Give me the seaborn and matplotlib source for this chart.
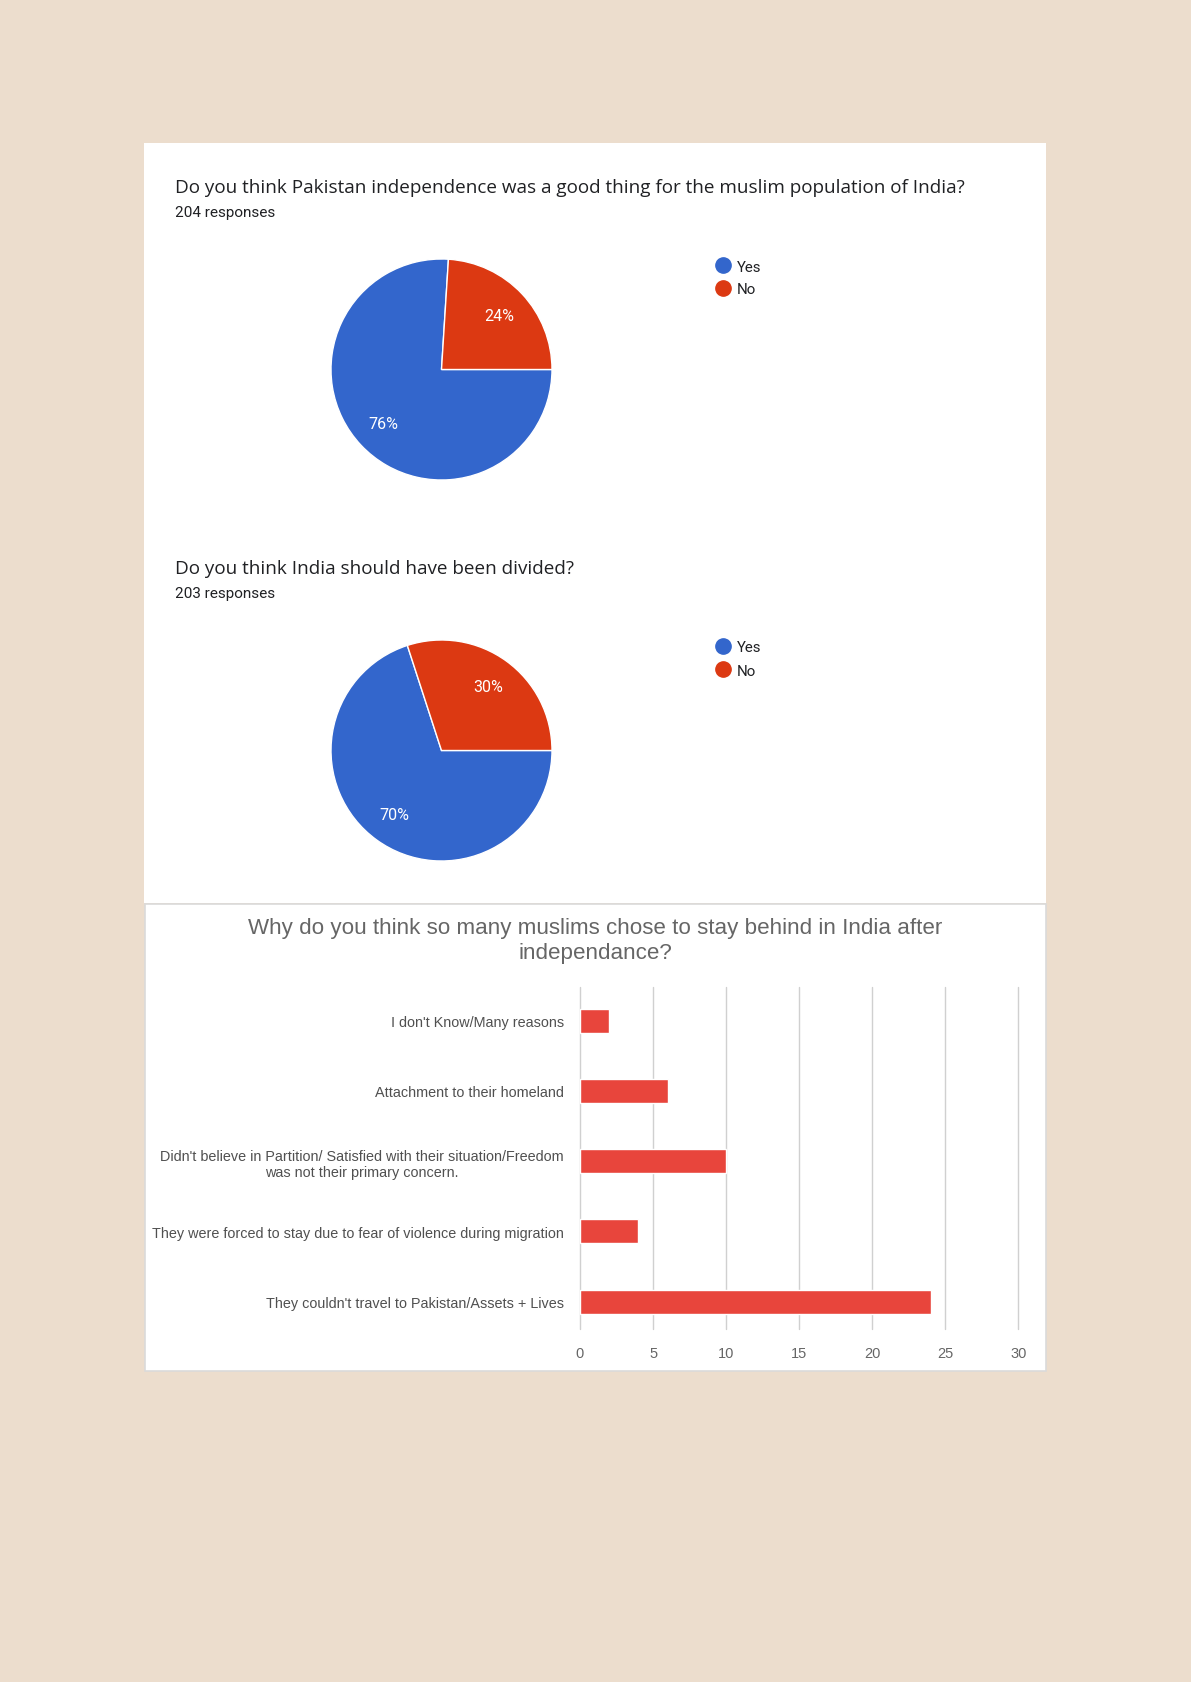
import matplotlib
matplotlib.use("Agg")
import matplotlib.pyplot as plt
from matplotlib.patches import Rectangle
from matplotlib.lines import Line2D
import seaborn as sns
import pandas as pd

# ---------------- data ----------------
q1_title = "Do you think Pakistan independence was a good thing for the muslim population of India?"
q1_responses = "204 responses"
q1_labels = ["Yes", "No"]
q1_values = [76, 24]

q2_title = "Do you think India should have been divided?"
q2_responses = "203 responses"
q2_labels = ["Yes", "No"]
q2_values = [70, 30]

q3_title = "Why do you think so many muslims chose to stay behind in India after\nindependance?"
q3_reasons = [
    "I don't Know/Many reasons",
    "Attachment to their homeland",
    "Didn't believe in Partition/ Satisfied with their situation/Freedom\nwas not their primary concern.",
    "They were forced to stay due to fear of violence during migration",
    "They couldn't travel to Pakistan/Assets + Lives",
]
q3_counts = [2, 6, 10, 4, 24]
q3_ticks = [0, 5, 10, 15, 20, 25, 30]

pie_colors = ["#3366CC", "#DC3912"]
bar_color = "#E8453C"
page_bg = "#ECDDCD"

sns.set_theme(style="white")
plt.rcParams["font.family"] = ["Roboto", "DejaVu Sans"]

W, H = 1191, 1683
fig = plt.figure(figsize=(W / 100, H / 100), dpi=100, facecolor=page_bg)

def fx(px):
    return px / W

def fy(py):
    return 1 - py / H

# panels
fig.patches.append(Rectangle((fx(144), fy(904)), fx(1046 - 144), (904 - 144) / H,
                             transform=fig.transFigure, facecolor="white",
                             edgecolor="none", zorder=-5))
fig.patches.append(Rectangle((fx(145), fy(1372)), fx(1046 - 145), (1372 - 905) / H,
                             transform=fig.transFigure, facecolor="white",
                             edgecolor="#DADADA", linewidth=1.2, zorder=-4))

def pie_block(title, resp, labels, values, cy, title_base):
    fig.text(fx(175), fy(title_base), title, fontsize=13.6, color="#202124",
             family=["Open Sans", "DejaVu Sans"], va="baseline", ha="left")
    fig.text(fx(175), fy(title_base + 24), resp, fontsize=11, color="#202124",
             va="baseline", ha="left")
    r = 110.5
    cx = 441.5
    ax = fig.add_axes([fx(cx - r), fy(cy + r), fx(2 * r), 2 * r / H])
    ax.set_zorder(2)
    wedges, texts, autotexts = ax.pie(
        values, colors=pie_colors, startangle=0, counterclock=False,
        autopct="%d%%", pctdistance=0.72,
        wedgeprops=dict(edgecolor="white", linewidth=1.0),
        textprops=dict(color="white", fontsize=11.5))
    ax.set_xlim(-1, 1)
    ax.set_ylim(-1, 1)
    ax.set_aspect("equal")
    ax.axis("off")
    handles = [Line2D([0], [0], marker="o", linestyle="none", markersize=11,
                      markerfacecolor=c, markeredgecolor=c) for c in pie_colors]
    fig.legend(handles, labels, loc="upper left",
               bbox_to_anchor=(fx(715.5), fy(cy - 110)),
               frameon=False, fontsize=10.8, handlelength=1.0,
               handletextpad=0.45, labelspacing=0.6, borderpad=0,
               borderaxespad=0, labelcolor="#202124")

pie_block(q1_title, q1_responses, q1_labels, q1_values, 370.5, 193)
pie_block(q2_title, q2_responses, q2_labels, q2_values, 751.5, 574)

# ---------------- bar chart ----------------
df = pd.DataFrame({"reason": q3_reasons, "count": q3_counts})
x0, x30 = 580, 1018.3
gtop, gbot = 988, 1330
axb = fig.add_axes([fx(x0), fy(gbot), fx(x30 - x0), (gbot - gtop) / H])
axb.set_zorder(2)
sns.barplot(data=df, y="reason", x="count", orient="h", color=bar_color,
            width=0.34, ax=axb, saturation=1)
axb.set_xlim(0, 30)
axb.set_ylim(4.39, -0.48)
axb.set_xticks(q3_ticks)
axb.set_xlabel("")
axb.set_ylabel("")
axb.set_facecolor("none")
for s in axb.spines.values():
    s.set_visible(False)
axb.grid(axis="x", color="#D0D0D0", linewidth=1.0)
axb.grid(axis="y", visible=False)
for gl in axb.get_xgridlines():
    gl.set_clip_on(False)
axb.set_axisbelow(True)
axb.tick_params(axis="both", length=0)
axb.tick_params(axis="y", pad=11.5)
axb.tick_params(axis="x", pad=12)
for lab in axb.get_yticklabels():
    lab.set_fontfamily(["Liberation Sans", "DejaVu Sans"])
    lab.set_fontsize(10.4)
    lab.set_color("#505050")
    lab.set_multialignment("center")
    lab.set_linespacing(1.2)
for lab in axb.get_xticklabels():
    lab.set_fontfamily(["Liberation Sans", "DejaVu Sans"])
    lab.set_fontsize(10.5)
    lab.set_color("#666666")

fig.text(fx(595), fy(941), q3_title, fontsize=16.1, color="#666666",
         family=["Liberation Sans", "DejaVu Sans"], ha="center", va="center",
         multialignment="center", linespacing=1.3)

fig.savefig("out.png", dpi=100, facecolor=page_bg)
